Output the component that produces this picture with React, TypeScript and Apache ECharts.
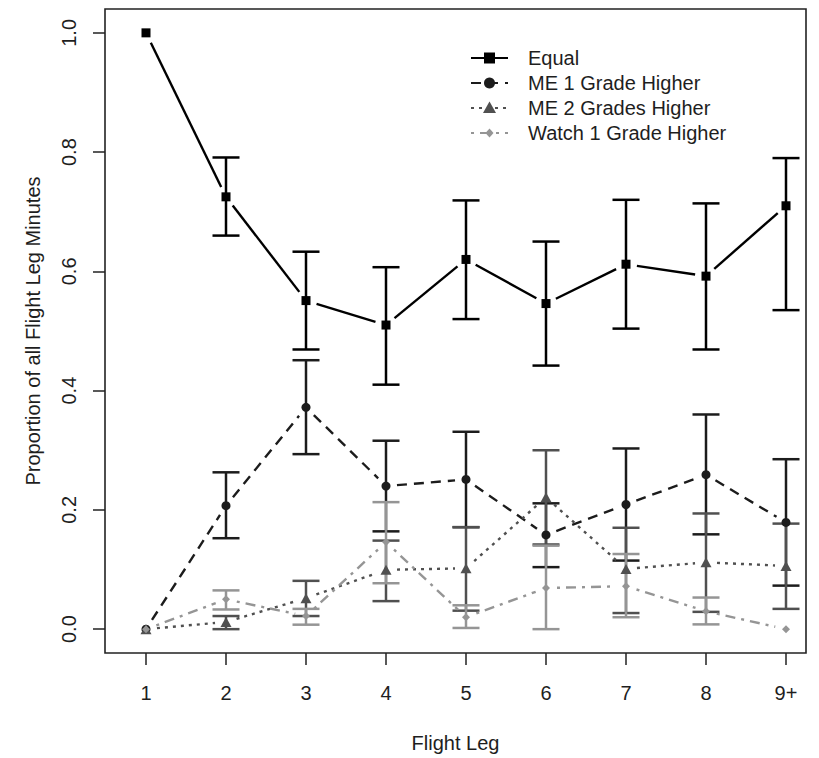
import React, { useEffect, useRef } from "react";
import * as echarts from "echarts";

// ---- data ----
const legs = [1, 2, 3, 4, 5, 6, 7, 8, 9];
const legLabels = ["1", "2", "3", "4", "5", "6", "7", "8", "9+"];
const yTicks = [0, 0.2, 0.4, 0.6, 0.8, 1.0];

const seriesNames = ["Equal", "ME 1 Grade Higher", "ME 2 Grades Higher", "Watch 1 Grade Higher"];

const equal = [1.0, 0.725, 0.551, 0.51, 0.62, 0.546, 0.612, 0.592, 0.71];
const equalLow = [null, 0.66, 0.469, 0.41, 0.52, 0.442, 0.504, 0.469, 0.535];
const equalHigh = [null, 0.791, 0.633, 0.607, 0.719, 0.65, 0.72, 0.714, 0.79];

const me1 = [0, 0.207, 0.372, 0.24, 0.251, 0.158, 0.209, 0.259, 0.179];
const me1Low = [null, 0.1525, 0.2935, 0.164, 0.171, 0.104, 0.115, 0.159, 0.073];
const me1High = [null, 0.263, 0.451, 0.316, 0.331, 0.211, 0.303, 0.36, 0.285];

const me2 = [0, 0.012, 0.052, 0.0995, 0.102, 0.221, 0.101, 0.112, 0.106];
const me2Low = [null, 0.0, 0.022, 0.047, 0.031, 0.142, 0.027, 0.029, 0.034];
const me2High = [null, 0.022, 0.081, 0.1485, 0.171, 0.3, 0.17, 0.194, 0.177];

const watch = [0, 0.05, 0.022, 0.146, 0.02, 0.069, 0.072, 0.03, 0];
const watchLow = [null, 0.033, 0.0075, 0.077, 0.002, 0.0, 0.02, 0.008, null];
const watchHigh = [null, 0.065, 0.034, 0.213, 0.04, 0.14, 0.126, 0.053, null];

// ---- styles ----
const FONT = "Liberation Sans, Arial, sans-serif";
const TXT = "#1e1e1e";
const styles = [
  { color: "#000000", dash: null as number[] | null, symbol: "rect", size: 9, lw: 2.4 },
  { color: "#1c1c1c", dash: [10, 7], symbol: "circle", size: 9, lw: 2.4 },
  { color: "#505050", dash: [3, 5], symbol: "triangle", size: 11, lw: 2.4 },
  { color: "#959595", dash: [3, 6, 10, 6], symbol: "diamond", size: 8, lw: 2.4 },
];

function errorSeries(low: (number | null)[], high: (number | null)[], color: string) {
  const data: number[][] = [];
  legs.forEach((x, i) => {
    if (low[i] != null && high[i] != null) data.push([x, low[i] as number, high[i] as number]);
  });
  return {
    type: "custom",
    silent: true,
    data,
    encode: { x: 0, y: [1, 2] },
    renderItem: (_p: any, api: any) => {
      const x = api.value(0);
      const top = api.coord([x, api.value(2)]);
      const bot = api.coord([x, api.value(1)]);
      const hw = 13.5;
      const st = { stroke: color, lineWidth: 2.5, fill: null };
      return {
        type: "group",
        children: [
          { type: "line", shape: { x1: top[0], y1: top[1], x2: bot[0], y2: bot[1] }, style: st },
          { type: "line", shape: { x1: top[0] - hw, y1: top[1], x2: top[0] + hw, y2: top[1] }, style: st },
          { type: "line", shape: { x1: bot[0] - hw, y1: bot[1], x2: bot[0] + hw, y2: bot[1] }, style: st },
        ],
      };
    },
  };
}

function segmentSeries(values: number[], color: string, dash: number[] | null, lw: number) {
  const data = legs.slice(0, -1).map((x, i) => [x, values[i], legs[i + 1], values[i + 1]]);
  return {
    type: "custom",
    silent: true,
    data,
    encode: { x: [0, 2], y: [1, 3] },
    renderItem: (_p: any, api: any) => {
      const a = api.coord([api.value(0), api.value(1)]);
      const b = api.coord([api.value(2), api.value(3)]);
      const dx = b[0] - a[0];
      const dy = b[1] - a[1];
      const len = Math.hypot(dx, dy);
      const g = 11;
      if (len <= 2 * g) return null;
      const ux = dx / len;
      const uy = dy / len;
      return {
        type: "line",
        shape: { x1: a[0] + ux * g, y1: a[1] + uy * g, x2: b[0] - ux * g, y2: b[1] - uy * g },
        style: { stroke: color, lineWidth: lw, lineDash: dash || undefined, fill: null },
      };
    },
  };
}

function markerSeries(name: string, values: number[], st: any) {
  return {
    type: "scatter",
    name,
    silent: true,
    symbol: st.symbol,
    symbolSize: st.symbol === "triangle" ? [11, 10] : st.size,
    itemStyle: { color: st.color, opacity: 1 },
    data: legs.map((x, i) => [x, values[i]]),
  };
}

function legendGraphics() {
  const els: any[] = [];
  const x0 = 471;
  const x1 = 508;
  const xm = 489.5;
  styles.forEach((st, i) => {
    const y = 58 + i * 25;
    els.push({
      type: "line",
      shape: { x1: x0, y1: y, x2: x1, y2: y },
      style: { stroke: st.color, lineWidth: 2.2, lineDash: st.dash || undefined },
      silent: true,
    });
    if (st.symbol === "rect") {
      els.push({ type: "rect", shape: { x: xm - 5.5, y: y - 5.5, width: 11, height: 11 }, style: { fill: st.color } });
    } else if (st.symbol === "circle") {
      els.push({ type: "circle", shape: { cx: xm, cy: y, r: 5.5 }, style: { fill: st.color } });
    } else if (st.symbol === "triangle") {
      els.push({
        type: "polygon",
        shape: { points: [[xm, y - 6.5], [xm + 6.5, y + 5], [xm - 6.5, y + 5]] },
        style: { fill: st.color },
      });
    } else {
      els.push({
        type: "polygon",
        shape: { points: [[xm, y - 4.5], [xm + 4, y], [xm, y + 4.5], [xm - 4, y]] },
        style: { fill: st.color },
      });
    }
    els.push({
      type: "text",
      x: 528,
      y,
      style: {
        text: seriesNames[i],
        fill: TXT,
        font: `20px ${FONT}`,
        textVerticalAlign: "middle",
        verticalAlign: "middle",
        align: "left",
      },
    });
  });
  return els;
}

export default function App() {
  const ref = useRef<HTMLDivElement>(null);
  useEffect(() => {
    if (!ref.current) return;
    const chart = echarts.init(ref.current, null, { renderer: "svg" });
    const values = [equal, me1, me2, watch];
    const lows = [equalLow, me1Low, me2Low, watchLow];
    const highs = [equalHigh, me1High, me2High, watchHigh];
    const series: any[] = [];
    values.forEach((v, i) => {
      series.push(errorSeries(lows[i], highs[i], styles[i].color));
    });
    values.forEach((v, i) => {
      series.push(segmentSeries(v, styles[i].color, styles[i].dash, styles[i].lw));
    });
    values.forEach((v, i) => {
      series.push(markerSeries(seriesNames[i], v, styles[i]));
    });

    const option: any = {
      animation: false,
      backgroundColor: "#ffffff",
      textStyle: { fontFamily: FONT },
      grid: {
        left: 105,
        right: 13,
        top: 9,
        bottom: 103.5,
        show: true,
        borderColor: "#222222",
        borderWidth: 1.6,
        backgroundColor: "transparent",
      },
      xAxis: {
        type: "value",
        min: 0.4875,
        max: 9.25,
        name: "Flight Leg",
        nameLocation: "middle",
        nameGap: 80,
        nameTextStyle: { fontSize: 20, color: TXT, fontFamily: FONT },
        splitLine: { show: false },
        axisLine: { show: false, onZero: false },
        axisTick: {
          show: true,
          customValues: legs,
          length: 12,
          inside: false,
          lineStyle: { color: "#222222", width: 1.5 },
        },
        axisLabel: {
          customValues: legs,
          formatter: (v: number) => legLabels[legs.indexOf(Math.round(v))] ?? "",
          fontSize: 20,
          color: TXT,
          fontFamily: FONT,
          margin: 30,
        },
      },
      yAxis: {
        type: "value",
        min: -0.04,
        max: 1.04,
        name: "Proportion of all Flight Leg Minutes",
        nameLocation: "middle",
        nameGap: 62,
        nameTextStyle: { fontSize: 20, color: TXT, fontFamily: FONT },
        splitLine: { show: false },
        axisLine: { show: false, onZero: false },
        axisTick: {
          show: true,
          customValues: yTicks,
          length: 12,
          inside: false,
          lineStyle: { color: "#222222", width: 1.5 },
        },
        axisLabel: {
          customValues: yTicks,
          formatter: (v: number) => v.toFixed(1),
          rotate: 90,
          fontSize: 20,
          color: TXT,
          fontFamily: FONT,
          margin: 26,
        },
      },
      graphic: legendGraphics(),
      series,
    };
    chart.setOption(option);
    return () => chart.dispose();
  }, []);
  return <div ref={ref} style={{ position: "fixed", left: 0, top: 0, width: 819, height: 758 }} />;
}
